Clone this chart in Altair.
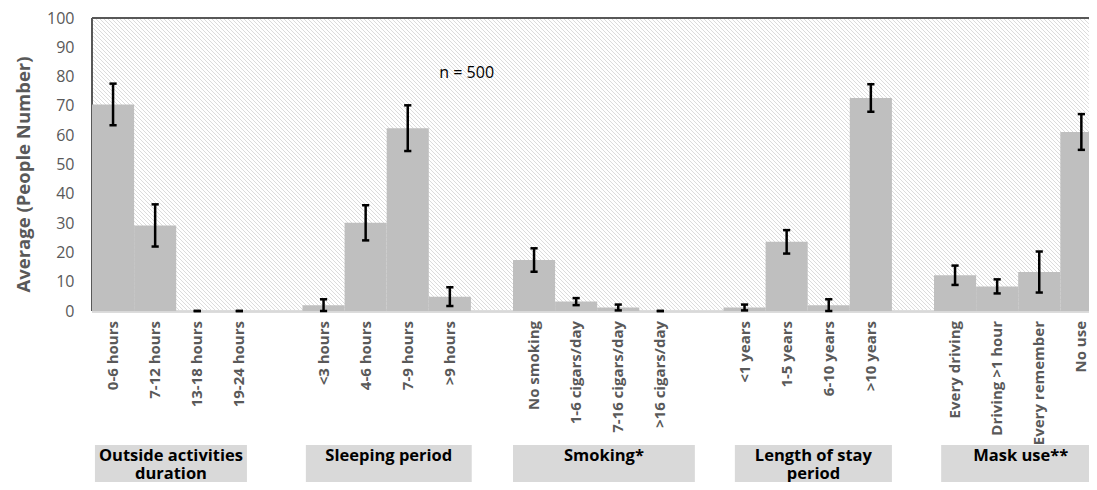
import altair as alt
import pandas as pd

# ---------------- data ----------------
group_titles = ["Outside activities\nduration", "Sleeping period", "Smoking*",
                "Length of stay\nperiod", "Mask use**"]
categories = [
    ["0-6 hours", "7-12 hours", "13-18 hours", "19-24 hours"],
    ["<3 hours", "4-6 hours", "7-9 hours", ">9 hours"],
    ["No smoking", "1-6 cigars/day", "7-16 cigars/day", ">16 cigars/day"],
    ["<1 years", "1-5 years", "6-10 years", ">10 years"],
    ["Every driving", "Driving >1 hour", "Every remember", "No use"],
]
means = [
    [70.5, 29.2, 0.0, 0.0],
    [2.0, 30.1, 62.4, 4.9],
    [17.4, 3.2, 1.2, 0.0],
    [1.2, 23.6, 2.0, 72.7],
    [12.2, 8.4, 13.3, 61.1],
]
errors = [
    [7.1, 7.2, 0.0, 0.0],
    [2.0, 6.0, 7.8, 3.2],
    [4.0, 1.2, 1.0, 0.0],
    [1.0, 4.0, 2.0, 4.7],
    [3.3, 2.4, 7.0, 6.1],
]
y_ticks = list(range(0, 101, 10))
note_text = "n = 500"

# ---------------- layout constants ----------------
SLOT = 42.1           # px per category slot
PLOT_W = 997
PLOT_H = 293
XMAX = PLOT_W / SLOT
CAP = 3.6 / SLOT      # half cap width in slot units
box_left = [0.07, 5.08, 10.0, 15.27, 20.17]
box_right = [3.68, 9.02, 14.32, 19.0, 23.95]
note_pos = (8.9, 81.3)

rows = []
for g, cats in enumerate(categories):
    for i, c in enumerate(cats):
        s = g * 5 + i
        m, e = means[g][i], errors[g][i]
        rows.append(dict(category=c, x0=s, x1=s + 1, xc=s + 0.5,
                         cl=s + 0.5 - CAP, cr=s + 0.5 + CAP,
                         mean=m, lo=max(m - e, 0), hi=m + e))
df = pd.DataFrame(rows)
boxes = pd.DataFrame(dict(title=group_titles, bx0=box_left,
                          bx1=[min(b, XMAX) for b in box_right],
                          bc=[(a + b) / 2 for a, b in zip(box_left, box_right)]))
note = pd.DataFrame(dict(x=[note_pos[0]], y=[note_pos[1]], t=[note_text]))

xscale = alt.Scale(domain=[0, XMAX], nice=False, zero=False)
yscale = alt.Scale(domain=[0, 100], nice=False)
yaxis = alt.Axis(values=y_ticks, grid=False, domain=False, ticks=False,
                 labelFont="Open Sans", labelFontSize=16, labelColor="#595959",
                 labelPadding=18, title="Average (People Number)",
                 titleFont="Open Sans", titleFontSize=18.5, titleFontWeight="bold",
                 titleColor="#595959", titleX=-69, titleY=156, titleAngle=270,
                 titleAlign="center", titleBaseline="middle")

base = alt.Chart(df)

hatch = alt.Chart(alt.sequence(-PLOT_H, PLOT_W + 10, 4, as_="k")).transform_calculate(
    hx0=f"datum.k / {SLOT}", hx1=f"(datum.k + {PLOT_H}) / {SLOT}"
).mark_rule(clip=True, stroke="#dcdcdc", strokeWidth=1).encode(
    x=alt.X("hx0:Q", scale=xscale, axis=None),
    x2="hx1:Q",
    y=alt.value(0), y2=alt.value(PLOT_H),
)

bottom_line = base.mark_rule(color="#d9d9d9", strokeWidth=1.5).encode(
    y=alt.value(PLOT_H + 0.5))
left_line = base.mark_rule(color="#595959", strokeWidth=1.5).encode(x=alt.value(0))
top_line = base.mark_rule(color="#595959", strokeWidth=1.5).encode(y=alt.value(0))

bars = base.mark_rect(color="#bfbfbf", clip=True).encode(
    x=alt.X("x0:Q", scale=xscale, axis=None),
    x2="x1:Q",
    y=alt.Y("mean:Q", scale=yscale, axis=yaxis),
    y2=alt.Y2(datum=0),
)

err = base.mark_rule(color="black", strokeWidth=2.5).encode(
    x=alt.X("xc:Q", scale=xscale, axis=None),
    y=alt.Y("lo:Q", scale=yscale, axis=yaxis),
    y2="hi:Q",
)
cap_hi = base.mark_rule(color="black", strokeWidth=2.5).encode(
    x=alt.X("cl:Q", scale=xscale, axis=None), x2="cr:Q",
    y=alt.Y("hi:Q", scale=yscale, axis=yaxis),
)
cap_lo = base.mark_rule(color="black", strokeWidth=2.5).encode(
    x=alt.X("cl:Q", scale=xscale, axis=None), x2="cr:Q",
    y=alt.Y("lo:Q", scale=yscale, axis=yaxis),
)

labels = base.mark_text(angle=270, align="right", baseline="middle",
                        font="Open Sans", fontWeight="bold", fontSize=15,
                        color="#595959").encode(
    x=alt.X("xc:Q", scale=xscale, axis=None),
    y=alt.value(PLOT_H + 10),
    text="category:N",
)

box_rects = alt.Chart(boxes).mark_rect(color="#d9d9d9").encode(
    x=alt.X("bx0:Q", scale=xscale, axis=None), x2="bx1:Q",
    y=alt.value(427), y2=alt.value(470),
)
box_text = alt.Chart(boxes).mark_text(
    font="Open Sans", fontWeight="bold", fontSize=16.5, color="black",
    align="center", baseline="alphabetic", lineBreak="\n", lineHeight=18,
).encode(
    x=alt.X("bc:Q", scale=xscale, axis=None),
    y=alt.value(443),
    text="title:N",
)

note_mark = alt.Chart(note).mark_text(font="Open Sans", fontSize=16, color="black",
                                      align="center", baseline="middle").encode(
    x=alt.X("x:Q", scale=xscale, axis=None),
    y=alt.Y("y:Q", scale=yscale, axis=yaxis),
    text="t:N",
)

chart = alt.layer(
    hatch, bottom_line, left_line, bars, err, cap_hi, cap_lo, top_line,
    labels, box_rects, box_text, note_mark,
).properties(
    width=PLOT_W, height=PLOT_H,
    padding={"left": 84, "top": 10, "right": 0, "bottom": 171},
    autosize=alt.AutoSizeParams(type="none"),
    background="white",
).configure_view(stroke=None)

chart.save("out.html", embed_options={"renderer": "svg", "actions": False})
